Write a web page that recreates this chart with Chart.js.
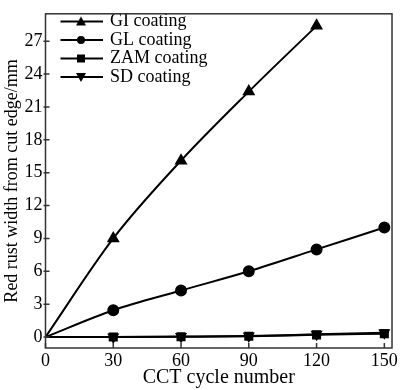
<!DOCTYPE html>
<html lang="en">
<head>
    <meta charset="UTF-8">
    <title>Red rust width vs CCT cycles</title>
    <script src="https://cdn.jsdelivr.net/npm/chart.js"></script>
    <style>
        html, body { margin: 0; padding: 0; background: #fff; }
        #wrap { width: 400px; height: 390px; }
    </style>
</head>
<body>
    <div id="wrap"><canvas id="rustChart" width="400" height="390"></canvas></div>
    <script>
        // data
        var cycles = [0, 30, 60, 90, 120, 150];
        var giWidth = [0, 9.0, 16.1, 22.4, 28.4];          // GI stops at 120 cycles
        var glWidth = [0, 2.45, 4.25, 6.0, 8.0, 10.0];
        var zamWidth = [0, 0.0, 0.03, 0.08, 0.2, 0.3];
        var sdWidth = [0, 0.0, 0.04, 0.1, 0.25, 0.4];
        var xTicks = [0, 30, 60, 90, 120, 150];
        var yTicks = [0, 3, 6, 9, 12, 15, 18, 21, 24, 27];
        var seriesNames = ['GI coating', 'GL coating', 'ZAM coating', 'SD coating'];

        function toPoints(vals) {
            return vals.map(function (v, i) { return { x: cycles[i], y: v }; });
        }

        Chart.defaults.font.family = "'Liberation Serif', 'Times New Roman', serif";
        Chart.defaults.font.size = 18;
        Chart.defaults.color = '#000';

        // legend sample: short line with the marker in the middle
        function legendIcon(style, rot) {
            var c = document.createElement('canvas');
            c.width = 44; c.height = 14;
            var g = c.getContext('2d');
            g.strokeStyle = '#000'; g.fillStyle = '#000'; g.lineWidth = 2;
            g.beginPath(); g.moveTo(0, 7); g.lineTo(44, 7); g.stroke();
            g.beginPath();
            if (style === 'circle') {
                g.arc(22, 7, 4, 0, Math.PI * 2);
            } else if (style === 'rect') {
                g.rect(18, 3, 8, 8);
            } else if (rot) {
                g.moveTo(17, 3); g.lineTo(27, 3); g.lineTo(22, 12);
            } else {
                g.moveTo(17, 11); g.lineTo(27, 11); g.lineTo(22, 2);
            }
            g.closePath(); g.fill();
            return c;
        }

        // no marker at the origin
        function markerSize(r) {
            return function (ctx) { return ctx.dataIndex === 0 ? 0 : r; };
        }

        var common = {
            borderColor: '#000', backgroundColor: '#000', borderWidth: 2,
            pointRadius: markerSize(5), pointHoverRadius: markerSize(5),
            cubicInterpolationMode: 'monotone', fill: false
        };

        var frame = {
            id: 'frame',
            afterLayout: function (chart) {
                chart.legend.left += 15;
                chart.legend.top += 12;
            },
            afterDraw: function (chart) {
                var ctx = chart.ctx, a = chart.chartArea;
                var xs = chart.scales.x, ys = chart.scales.y;
                ctx.save();
                ctx.strokeStyle = '#333';
                ctx.lineWidth = 1.5;
                ctx.strokeRect(a.left, a.top, a.right - a.left, a.bottom - a.top);
                ctx.beginPath();
                xTicks.forEach(function (t) {
                    var px = xs.getPixelForValue(t);
                    ctx.moveTo(px, a.bottom); ctx.lineTo(px, a.bottom - 5);
                });
                yTicks.forEach(function (t) {
                    var py = ys.getPixelForValue(t);
                    ctx.moveTo(a.left - 2, py); ctx.lineTo(a.left + 4, py);
                });
                ctx.stroke();
                ctx.restore();
            }
        };

        new Chart(document.getElementById('rustChart'), {
            type: 'line',
            data: {
                datasets: [
                    Object.assign({}, common, { label: seriesNames[0], data: toPoints(giWidth), pointStyle: 'triangle', pointRadius: markerSize(5.5) }),
                    Object.assign({}, common, { label: seriesNames[1], data: toPoints(glWidth), pointStyle: 'circle' }),
                    Object.assign({}, common, { label: seriesNames[2], data: toPoints(zamWidth), pointStyle: 'rect' }),
                    Object.assign({}, common, { label: seriesNames[3], data: toPoints(sdWidth), pointStyle: 'triangle', pointRotation: 180 })
                ]
            },
            options: {
                responsive: false,
                animation: false,
                layout: { padding: { top: 1, right: 5, left: 0, bottom: 0 } },
                plugins: {
                    tooltip: { enabled: false },
                    legend: {
                        position: 'chartArea',
                        align: 'start',
                        labels: {
                            usePointStyle: true,
                            pointStyleWidth: 40,
                            padding: 0.5,
                            font: { size: 18 },
                            generateLabels: function (chart) {
                                var icons = [legendIcon('triangle'), legendIcon('circle'), legendIcon('rect'), legendIcon('triangle', true)];
                                return seriesNames.map(function (n, i) {
                                    return { text: n, pointStyle: icons[i], datasetIndex: i, fontColor: '#000', lineWidth: 0, strokeStyle: 'rgba(0,0,0,0)', fillStyle: 'rgba(0,0,0,0)' };
                                });
                            }
                        }
                    }
                },
                scales: {
                    x: {
                        type: 'linear', min: 0, max: 153.4,
                        grid: { display: false, drawTicks: false },
                        border: { display: false },
                        afterBuildTicks: function (s) { s.ticks = xTicks.map(function (v) { return { value: v }; }); },
                        afterFit: function (s) { s.height = 42; },
                        ticks: { padding: 2, maxRotation: 0 },
                        title: { display: true, text: 'CCT cycle number', padding: 0, font: { size: 20 } }
                    },
                    y: {
                        min: -1, max: 29.5,
                        grid: { display: false, drawTicks: false },
                        border: { display: false },
                        afterBuildTicks: function (s) { s.ticks = yTicks.map(function (v) { return { value: v }; }); },
                        afterFit: function (s) { s.width = 45.5; },
                        ticks: { padding: 3 },
                        title: { display: true, text: 'Red rust width from cut edge/mm', padding: 1 }
                    }
                }
            },
            plugins: [frame]
        });
    </script>
</body>
</html>
